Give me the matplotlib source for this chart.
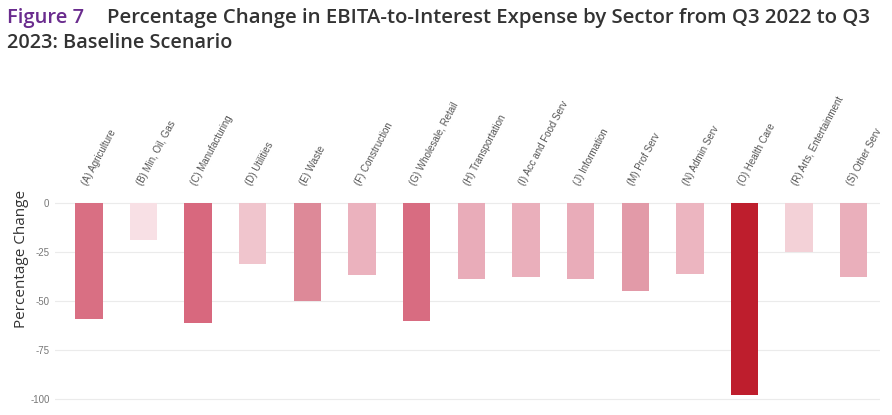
import matplotlib
matplotlib.use("Agg")
import matplotlib.pyplot as plt
import numpy as np
from matplotlib.colors import LinearSegmentedColormap

sectors = ["(A) Agriculture", "(B) Min, Oil, Gas", "(C) Manufacturing", "(D) Utilities",
           "(E) Waste", "(F) Construction", "(G) Wholesale, Retail", "(H) Transportation",
           "(I) Acc and Food Serv", "(J) Information", "(M) Prof Serv", "(N) Admin Serv",
           "(O) Health Care", "(R) Arts, Entertainment", "(S) Other Serv"]
pct_change = [-59, -19, -61, -31, -50, -37, -60, -39, -38, -39, -45, -36, -98, -25, -38]
y_ticks = [0, -25, -50, -75, -100]

# colour scale by magnitude (anchors)
cmap = LinearSegmentedColormap.from_list(
    "sev",
    [(0.0, "#F8E0E5"), (0.08, "#F3D0D6"), (0.16, "#EFC3CB"), (0.23, "#EBB1BD"),
     (0.33, "#E29AA8"), (0.40, "#DC8796"), (0.53, "#D8697F"), (1.0, "#BE1E2D")])
mags = np.abs(np.array(pct_change, dtype=float))
norm = plt.Normalize(vmin=19, vmax=98)
colors = [cmap(norm(m)) for m in mags]

fig = plt.figure(figsize=(8.92, 4.15), dpi=100)
ax = fig.add_axes([55/892, 1 - 403/415, (880-55)/892, (403-197)/415])

x = np.arange(len(sectors))
ax.bar(x, pct_change, width=0.5, color=colors, zorder=2)
ax.set_xlim(-0.62, len(sectors) - 1 + 0.48)
ax.set_ylim(-102, 3)
ax.set_yticks(y_ticks)
ax.set_yticklabels([str(v) for v in y_ticks], fontsize=7, color="#777777",
                   family=["Liberation Sans", "DejaVu Sans"])
ax.yaxis.grid(True, color="#EBEBEB", linewidth=0.8, zorder=0)
ax.tick_params(axis="y", length=0, pad=4)
for s in ax.spines.values():
    s.set_visible(False)

ax.xaxis.tick_top()
ax.set_xticks(x)
ax.set_xticklabels(sectors, rotation=62, ha="left", va="bottom", rotation_mode="anchor",
                   fontsize=7, color="#555555", family=["Liberation Sans", "DejaVu Sans"])
ax.tick_params(axis="x", length=0, pad=7)

fig.text(22/892, 1 - 259/415, "Percentage Change", rotation=90, ha="center", va="center",
         fontsize=11, color="#333333", family=["Open Sans", "DejaVu Sans"])

title_kw = dict(ha="left", va="baseline", fontweight="semibold",
                family=["Open Sans", "DejaVu Sans"])
fig.text(7/892, 1 - 23/415, "Figure 7", color="#6A2C8E", fontsize=14.5, **title_kw)
fig.text(107/892, 1 - 23/415,
         "Percentage Change in EBITA-to-Interest Expense by Sector from Q3 2022 to Q3",
         color="#333333", fontsize=14.7, **title_kw)
fig.text(7/892, 1 - 48/415, "2023: Baseline Scenario", color="#333333", fontsize=14.3,
         **title_kw)

fig.savefig("out.png", dpi=100)
